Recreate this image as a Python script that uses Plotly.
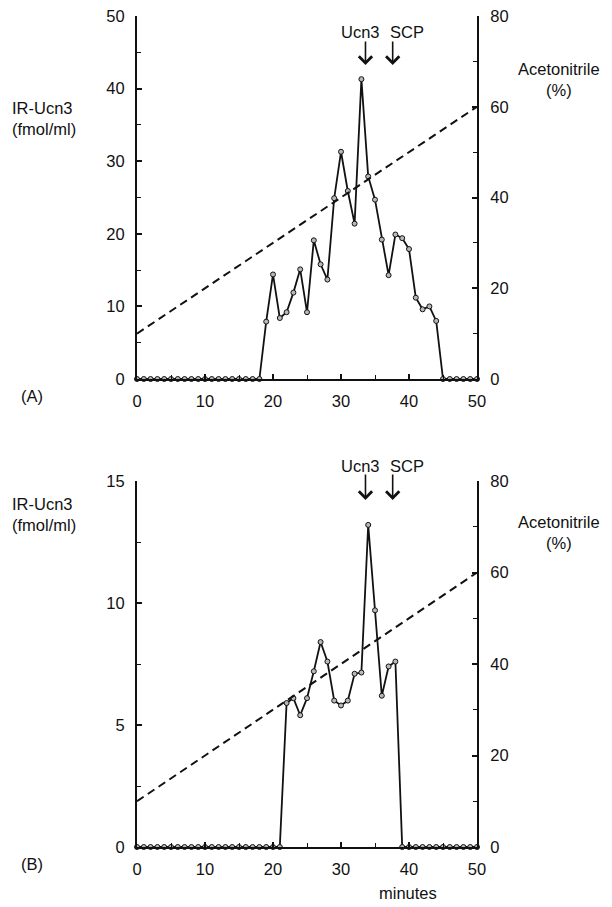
import plotly.graph_objects as go

# ---------------- data ----------------
minutes = list(range(0, 51))

ucn3_a = [0]*19 + [7.9, 14.4, 8.4, 9.2, 11.9, 15.1, 9.2, 19.1, 15.8, 13.7,
                   24.9, 31.3, 25.9, 21.4, 41.3, 27.9, 24.7, 19.2, 14.3, 19.9,
                   19.4, 17.9, 11.2, 9.6, 10.0, 8.0] + [0]*6

ucn3_b = [0]*22 + [5.9, 6.1, 5.4, 6.1, 7.2, 8.4, 7.6, 6.0, 5.8, 6.0,
                   7.1, 7.15, 13.2, 9.7, 6.2, 7.4, 7.6] + [0]*12

gradient_min = [0, 50]
gradient_pct = [10, 60]

peak_labels = ["Ucn3", "SCP"]
peak_pos = [33.6, 37.6]

# page body has an 8px margin: figure is drawn offset by (8, 8)
OFF = 8
W, H = 612 - OFF, 907 - OFF
FONT = "Liberation Sans, Arial, sans-serif"
FS = 16.5
INK = "#111111"


def px(x):
    return (x - OFF) / W


def py(y):
    return 1 - (y - OFF) / H


x_dom = [px(137), px(477)]
a_dom = [py(379), py(16)]
b_dom = [py(847), py(481)]

fig = go.Figure()

marker = dict(symbol="circle", size=5, color="#b8b8b8", line=dict(color=INK, width=1))

# Panel A
fig.add_trace(go.Scatter(x=minutes, y=ucn3_a, mode="lines+markers", xaxis="x", yaxis="y",
                         line=dict(color=INK, width=1.8), marker=marker, cliponaxis=False,
                         showlegend=False))
fig.add_trace(go.Scatter(x=gradient_min, y=gradient_pct, mode="lines", xaxis="x", yaxis="y2",
                         line=dict(color=INK, width=2, dash="8px,5px"), showlegend=False))
# Panel B
fig.add_trace(go.Scatter(x=minutes, y=ucn3_b, mode="lines+markers", xaxis="x2", yaxis="y3",
                         line=dict(color=INK, width=1.8), marker=marker, cliponaxis=False,
                         showlegend=False))
fig.add_trace(go.Scatter(x=gradient_min, y=gradient_pct, mode="lines", xaxis="x2", yaxis="y4",
                         line=dict(color=INK, width=2, dash="8px,5px"), showlegend=False))

tickfont = dict(family=FONT, size=FS, color=INK)
common = dict(showgrid=False, zeroline=False, showline=True, linecolor=INK, linewidth=2,
              ticks="inside", ticklen=5, tickwidth=1.5, tickcolor=INK, tickfont=tickfont,
              automargin=False, ticklabeloverflow="allow")


def xax(anchor, dom):
    return dict(common, domain=dom, anchor=anchor, range=[0, 50], tickvals=list(range(0, 51, 10)),
                minor=dict(ticks="inside", dtick=5, ticklen=4, tickwidth=1.2, tickcolor=INK),
                ticklabelstandoff=6)


def yleft(anchor, dom, top, step, mstep):
    n = int(top / step)
    return dict(common, domain=dom, anchor=anchor, range=[0, top],
                tickvals=[i*step for i in range(n+1)],
                minor=dict(ticks="inside", dtick=mstep, ticklen=4, tickwidth=1.2, tickcolor=INK),
                ticklabelstandoff=7)


def yright(anchor, over):
    return dict(common, anchor=anchor, overlaying=over, side="right", range=[0, 80],
                tickvals=[0, 20, 40, 60, 80],
                minor=dict(ticks="inside", dtick=10, ticklen=4, tickwidth=1.2, tickcolor=INK),
                ticklabelstandoff=8)


fig.update_layout(
    width=W, height=H, margin=dict(l=0, r=0, t=0, b=0, autoexpand=False),
    paper_bgcolor="white", plot_bgcolor="white",
    xaxis=dict(xax("y", x_dom)),
    yaxis=yleft("x", a_dom, 50, 10, 5),
    yaxis2=yright("x", "y"),
    xaxis2=dict(xax("y3", x_dom)),
    yaxis3=yleft("x2", b_dom, 15, 5, 2.5),
    yaxis4=yright("x2", "y3"),
    font=dict(family=FONT, size=FS, color=INK),
)

ann = []
txt = dict(family=FONT, size=FS, color=INK)


def label(x, y, t, align="center", xanchor="center"):
    ann.append(dict(x=px(x), y=py(y), xref="paper", yref="paper", text=t, showarrow=False,
                    font=txt, align=align, xanchor=xanchor, yanchor="middle"))


label(10, 118, "IR-Ucn3<br>(fmol/ml)", align="left", xanchor="left")
label(559, 79, "Acetonitrile<br>(%)")
label(32, 396, "(A)")
label(10, 514, "IR-Ucn3<br>(fmol/ml)", align="left", xanchor="left")
label(559, 532, "Acetonitrile<br>(%)")
label(32, 864, "(B)")
label(408, 893, "minutes")

# arrows + peak labels
for xref, tip, tail, ty in [("x", 65, 40, 32), ("x2", 500, 473, 466)]:
    for name, pos, dx in zip(peak_labels, peak_pos, [-5, 14]):
        ann.append(dict(x=pos, y=py(tip), xref=xref, yref="paper", ax=0, ay=-(tip - tail),
                        axref="pixel", ayref="pixel", text="", showarrow=True, arrowhead=4,
                        arrowsize=1.6, arrowwidth=1.6, arrowcolor=INK))
        ann.append(dict(x=pos, y=py(ty), xref=xref, yref="paper", text=name, showarrow=False,
                        font=txt, xshift=dx, yanchor="middle"))

fig.update_layout(annotations=ann)
fig.write_html("out.html")
